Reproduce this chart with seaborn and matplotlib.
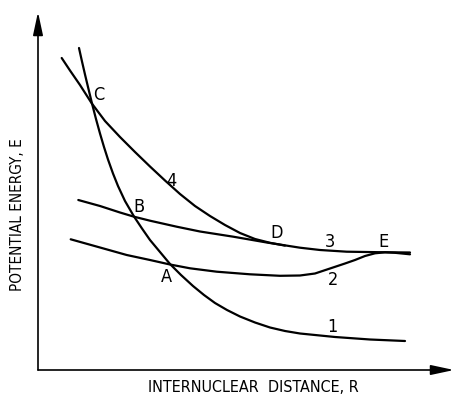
import matplotlib
matplotlib.use("Agg")
import matplotlib.pyplot as plt
from matplotlib import font_manager
from matplotlib.font_manager import FontProperties
import seaborn as sns
import pandas as pd
import os

# ---- data (R = internuclear distance, E = potential energy, arbitrary units) ----
r1 = [4.10, 4.40, 4.70, 5.00, 5.40, 5.80, 6.20, 6.60, 7.00, 7.50, 8.00, 8.70, 9.60, 10.40, 11.20,
      12.20, 13.20, 14.30, 15.50, 16.60, 17.70, 18.90, 20.20, 21.70, 23.20, 24.70, 26.20, 29.70, 33.20, 36.70]
e1 = [32.20, 30.85, 29.55, 28.30, 26.65, 25.10, 23.65, 22.30, 21.05, 19.65, 18.40, 16.90, 15.35, 14.15, 13.00,
      11.80, 10.60, 9.50, 8.40, 7.50, 6.70, 6.00, 5.35, 4.75, 4.25, 3.90, 3.65, 3.30, 3.05, 2.90]

r2 = [3.27, 6.20, 8.87, 11.20, 13.20, 15.20, 17.87, 21.20, 24.20, 26.20, 27.70, 29.20, 30.70, 31.70, 32.70, 33.70, 34.70, 35.70, 37.20]
e2 = [13.07, 12.25, 11.50, 11.00, 10.55, 10.17, 9.83, 9.57, 9.42, 9.45, 9.65, 10.15, 10.65, 11.00, 11.40, 11.67, 11.77, 11.72, 11.57]

r3 = [4.03, 6.20, 8.20, 9.60, 11.20, 13.87, 16.20, 19.53, 22.87, 26.20, 28.20, 30.87, 34.20, 37.20]
e3 = [17.00, 16.40, 15.75, 15.33, 14.93, 14.33, 13.85, 13.33, 12.75, 12.23, 12.00, 11.83, 11.78, 11.75]

r4 = [2.37, 3.20, 4.20, 5.37, 6.70, 8.20, 9.70, 11.20, 12.70, 14.20, 15.70, 17.20, 18.70, 20.20, 21.70, 23.20, 24.70]
e4 = [31.20, 29.95, 28.50, 26.67, 24.90, 23.30, 21.80, 20.35, 18.95, 17.60, 16.40, 15.40, 14.50, 13.70, 13.10, 12.72, 12.44]

point_labels = ["C", "B", "A", "4", "D", "3", "E", "2", "1"]
label_r = [6.03, 10.10, 12.87, 13.37, 23.87, 29.20, 34.53, 29.47, 29.47]
label_e = [27.50, 16.27, 9.33, 18.93, 13.67, 12.83, 12.83, 9.00, 4.33]

x_title = "INTERNUCLEAR  DISTANCE, R"
y_title = "POTENTIAL ENERGY, E"

sns.set_style("white")
plt.rcParams["font.family"] = ["DejaVu Sans"]
plt.rcParams["text.color"] = "black"

# pick a narrow / condensed face if one is installed
font_path = None
files = [f.fname for f in font_manager.fontManager.ttflist]
for key in ["LiberationSansNarrow-Regular", "DejaVuSansCondensed.ttf", "Condensed", "Narrow"]:
    hits = [p for p in files if key in os.path.basename(p)
            and "Bold" not in os.path.basename(p) and "Italic" not in os.path.basename(p)
            and "Oblique" not in os.path.basename(p)]
    if hits:
        font_path = hits[0]
        break

def fp(size):
    if font_path:
        return FontProperties(fname=font_path, size=size)
    return FontProperties(family="DejaVu Sans", size=size)

fig = plt.figure(figsize=(4.54, 3.98), dpi=100)
ax = fig.add_axes([38/454, 28/398, 416/454, 358/398])

curves = [(r1, e1), (r2, e2), (r3, e3), (r4, e4)]
for rr, ee in curves:
    df = pd.DataFrame({"R": rr, "E": ee})
    sns.lineplot(data=df, x="R", y="E", sort=False, estimator=None,
                 color="black", linewidth=1.6, ax=ax)

for t, x, y in zip(point_labels, label_r, label_e):
    ax.text(x, y, t, ha="center", va="center", fontproperties=fp(13), color="black")

ax.set_xlim(0, 41.6)
ax.set_ylim(0, 35.8)
ax.set_xticks([])
ax.set_yticks([])
ax.set_xlabel("")
ax.set_ylabel("")
for s in ax.spines.values():
    s.set_visible(False)

arrow = dict(arrowstyle="-|>,head_length=1.4,head_width=0.3", color="black",
             lw=1.2, mutation_scale=10, shrinkA=0, shrinkB=0)
ax.annotate("", xy=(1.0, 0.0), xytext=(0.0, 0.0), xycoords="axes fraction",
            textcoords="axes fraction", arrowprops=arrow, annotation_clip=False)
ax.annotate("", xy=(0.0, 1.0), xytext=(0.0, 0.0), xycoords="axes fraction",
            textcoords="axes fraction", arrowprops=arrow, annotation_clip=False)

fig.text(253/454, 1 - 387/398, x_title, ha="center", va="center", fontproperties=fp(11.5), color="black")
fig.text(18/454, 1 - 215/398, y_title, ha="center", va="center", rotation=90,
         fontproperties=fp(11), color="black")

fig.savefig("out.png", dpi=100)
